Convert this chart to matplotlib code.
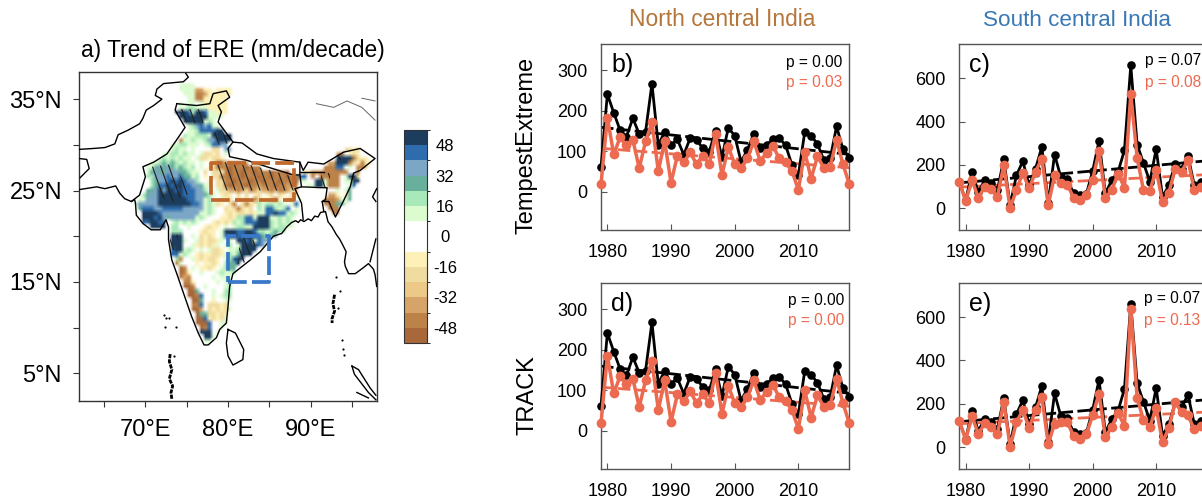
import matplotlib
matplotlib.use('Agg')
import matplotlib.pyplot as plt
from matplotlib.colors import ListedColormap, BoundaryNorm
from matplotlib.patches import Polygon
from matplotlib.cm import ScalarMappable
import numpy as np

plt.rcParams['font.family'] = ['Liberation Sans', 'DejaVu Sans']

W, H = 1202, 503

years = list(range(1979, 2019))

# panel b, d: north central India
north_obs = [60, 241, 195, 152, 136, 181, 143, 148, 267, 115, 148, 115, 129, 91, 132, 128, 107, 99, 151, 85,
             158, 138, 74, 103, 143, 107, 114, 130, 133, 114, 66, 41, 147, 138, 118, 78, 82, 161, 105, 84]
north_te = [18, 183, 92, 134, 114, 128, 58, 124, 171, 51, 124, 22, 89, 72, 97, 68, 89, 68, 143, 41,
            110, 68, 59, 82, 124, 76, 95, 113, 82, 72, 51, 4, 99, 32, 87, 59, 62, 128, 68, 18]
north_track = [18, 185, 92, 134, 114, 128, 58, 124, 171, 51, 124, 22, 89, 72, 97, 68, 89, 68, 143, 41,
               110, 68, 59, 82, 124, 76, 95, 113, 82, 72, 51, 4, 99, 32, 87, 59, 62, 128, 68, 18]
north_obs_trend = [159, 92]
north_te_trend = [107, 59]
north_track_trend = [107, 60]

# panel c, e: south central India
south_obs = [122, 37, 165, 75, 129, 117, 83, 226, 14, 152, 217, 106, 183, 283, 22, 248, 142, 134, 68, 60,
             65, 172, 311, 68, 129, 168, 268, 660, 294, 209, 122, 274, 52, 106, 206, 183, 242, 106, 122, 95]
south_te = [122, 32, 129, 48, 98, 88, 52, 198, 0, 86, 163, 91, 168, 229, 14, 152, 117, 109, 49, 37,
            60, 132, 263, 48, 83, 160, 95, 529, 234, 83, 80, 178, 29, 71, 183, 168, 222, 83, 98, 90]
south_track = [122, 34, 142, 62, 110, 93, 59, 209, 0, 116, 170, 90, 170, 232, 15, 108, 116, 116, 51, 36,
               59, 147, 247, 46, 93, 159, 97, 637, 229, 124, 93, 181, 23, 88, 206, 162, 147, 82, 97, 90]
south_obs_trend = [117, 219]
south_te_trend = [97, 155]
south_track_trend = [108, 162]

# ERE trend map, 0.5 degree cells: (row from 37N, column from 68E, level codes)
map_lat0, map_lon0, map_step = 37.25, 68.0, 0.5
code_values = {'w': 0, 'a': 12, 'b': 20, 'c': 28, 'd': 36, 'e': 44, 'f': 52,
               'n': -12, 'o': -20, 'p': -36, 'q': -44, 'r': -52}
ere_runs = [
    (1, 12, 'aaaa'), (2, 12, 'aaaappnnwnnnn'), (3, 13, 'aaaqqpnnnnnn'), (4, 14, 'aaqqnnnnnn'),
    (5, 12, 'awaawannnnnn'), (6, 12, 'aabbaaannnnn'), (7, 11, 'fffebffeaannn'), (8, 12, 'fffffffaaaa'),
    (9, 13, 'fffffaba'), (10, 14, 'abdedeaa'), (11, 14, 'aabeeeeff'), (12, 13, 'baabbbafffff'),
    (13, 12, 'qaabaabddffff'), (14, 10, 'aabbaaawabeedd'),
    (15, 10, 'abaawawwwwoowdd'), (15, 52, 'oono'),
    (16, 8, 'aabbabaawaoonowaw'), (16, 50, 'pqwnon'),
    (17, 7, 'abababaawaoonoonw'), (17, 50, 'ffffqonnw'),
    (18, 5, 'aabcbcbabaawawwnqqpqqqqp'), (18, 48, 'ppfffqonqnn'),
    (19, 4, 'aacdcdcbcbabwawnoqqqrqqqrqqq'), (19, 47, 'qqqeewawqqo'),
    (20, 4, 'acdccdddccbaawowoonqrqqrqqrqqqrqqqr'), (20, 42, 'ooqqqqqqqqqwwq'),
    (21, 4, 'bbdddeddecc'), (21, 15, 'abwnwooqqrqqrqqqrqqrqqqrqq'), (21, 41, 'eewqwqqqqqwaffo'),
    (22, 5, 'bcddefefedd'), (22, 16, 'bwwnwooqqrqqqrqqrqqqrqqqr'), (22, 41, 'aawwffaqqqwaaff'),
    (23, 5, 'bceefeffeedd'), (23, 17, 'caawooqrqqqrqqpqqqrqqpqq'), (23, 42, 'waaffaqqqwwae'),
    (24, 4, 'ccdfdffefeeedd'), (24, 18, 'bwwaooppqpoqpoppqpqqpop'), (24, 48, 'wwawac'),
    (25, 3, 'bcddffffffeeedd'), (25, 18, 'cbawnonwowownownowonwon'), (25, 48, 'ppnwnc'),
    (26, 2, 'aadddfffffffeedd'), (26, 18, 'abwwanowonowqonwoqnwoowa'), (26, 47, 'qqqpaac'),
    (27, 1, 'adddddffffffffeed'), (27, 18, 'abaonwoqwoqonbabbabawaew'), (27, 47, 'qqqcca'),
    (28, 2, 'ceeeddeeeeeddddd'), (28, 18, 'abawwonoqonowbaeebabewaw'), (28, 48, 'qqq'),
    (29, 3, 'ffffeddddddddd'), (29, 17, 'aabawwnonoononaaeefeeabaw'), (29, 49, 'qq'),
    (30, 3, 'fffefdcdddddd'), (30, 16, 'abawwwnnonbbeeafffaababaww'),
    (31, 3, 'eeffee'), (31, 10, 'abababawwwnononbabeeefffbababaw'),
    (32, 5, 'ffff'), (32, 10, 'bbwwawwwnonnwawabbaaffffbabbaa'),
    (33, 10, 'bbbwwwwnonnwafffeeffebbabcbb'),
    (34, 10, 'fffwwawononwaeffeefffecbcd'),
    (35, 10, 'fffawwaonoonawawffefaedd'),
    (36, 10, 'fffwwanononawabwaffffed'),
    (37, 10, 'effabawawaoonwaabffff'),
    (38, 10, 'eeabawnonnoonabacfff'),
    (39, 11, 'bqwwanonoonwabeff'),
    (40, 11, 'qawwwnwnnonwbccf'),
    (41, 12, 'rqwawnnonwabcc'),
    (42, 12, 'rqnwwawwwabaab'),
    (43, 12, 'qpqwwwwwawaaa'),
    (44, 13, 'qqnwwwwwawab'),
    (45, 13, 'rrqwwawwwwab'),
    (46, 14, 'rrcwwwawwbb'),
    (47, 14, 'rrqewwawabb'),
    (48, 15, 'rrcwwnwwaa'),
    (49, 15, 'qqewooonow'),
    (50, 15, 'rrpwononoa'),
    (51, 16, 'rccoonon'),
    (52, 16, 'rrenonoa'),
    (53, 16, 'rrrewwaa'),
    (54, 17, 'rqewwa'),
    (55, 17, 'fffwa'),
    (56, 18, 'ffa'),
    (57, 18, 'aa'),
]

level_bounds = [-56, -48, -40, -32, -24, -16, -8, 0, 8, 16, 24, 32, 40, 48, 56]
level_colors = ['#a8683a', '#bd8248', '#d6a468', '#ecc987', '#f0dca0', '#fdf1b8', '#ffffff',
                '#ffffff', '#dcfcd0', '#a9e8b8', '#68b09c', '#7ba6c6', '#2f6cad', '#1c3d5e']
bar_ticks = [-48, -32, -16, 0, 16, 32, 48]

# borders and coasts as (lon, lat)
border_lines = [
    # Afghanistan, Iran and Pakistan coast, on round the Bay of Bengal
    [(74.9, 37.8), (75.2, 37.4), (74.6, 36.9), (72.2, 36.7), (71.4, 36.1), (71.2, 35.4), (72.0, 35.0),
     (71.0, 34.3), (70.1, 33.8), (69.7, 32.9), (69.3, 32.3), (67.9, 31.6), (66.7, 31.1), (66.3, 30.1),
     (65.1, 29.7), (63.7, 29.6), (62.0, 29.5)],
    [(62.0, 28.5), (62.9, 28.4), (63.2, 27.4), (62.1, 26.4)],
    [(62.0, 25.1), (64.1, 25.4), (65.1, 25.2), (66.4, 25.5), (66.9, 24.7), (67.5, 24.1), (68.3, 23.8),
     (68.7, 24.0), (68.8, 23.6), (68.9, 22.3), (69.7, 21.4), (70.7, 20.7), (71.8, 20.7), (72.5, 21.8),
     (72.8, 21.0), (72.8, 19.6), (73.2, 17.4), (73.8, 15.9), (74.6, 13.8), (75.6, 11.2), (76.4, 9.4),
     (77.1, 8.1), (77.6, 8.1), (78.6, 8.9), (79.0, 9.8), (79.8, 10.5), (80.0, 12.3), (80.2, 14.5),
     (80.6, 15.9), (82.7, 17.4), (83.9, 18.3), (85.5, 20.0), (86.5, 20.3), (87.1, 21.0), (87.7, 21.5),
     (88.2, 21.7), (88.5, 21.5), (88.8, 21.8), (89.2, 21.6), (89.7, 21.9), (90.1, 21.7), (90.5, 22.2),
     (90.9, 22.1), (91.2, 22.6), (91.8, 22.7), (92.1, 21.6), (92.6, 21.0), (93.1, 20.2), (93.5, 19.7),
     (93.8, 19.2), (94.3, 18.3), (94.1, 17.2), (94.2, 16.7), (94.6, 15.9), (95.4, 15.9), (96.3, 16.5),
     (97.0, 17.0), (97.6, 16.4), (97.8, 15.8), (98.0, 14.5)],
    # Pakistan - India
    [(73.8, 34.5), (73.6, 33.8), (74.8, 31.9), (73.6, 30.3), (72.6, 29.0), (71.0, 28.1), (69.7, 27.6),
     (70.0, 26.5), (69.3, 24.5), (68.3, 23.8)],
    # Kashmir, Nepal top, Bhutan, north east India
    [(73.8, 34.5), (76.2, 34.3), (77.8, 34.5), (78.2, 35.6), (79.8, 35.9), (80.2, 35.2), (78.8, 34.3),
     (79.2, 33.6), (78.8, 32.5), (80.6, 30.3), (81.7, 30.2), (83.5, 29.0), (85.5, 28.5), (88.7, 28.1),
     (89.1, 27.2), (89.7, 28.1), (91.6, 27.9), (94.0, 29.2), (96.0, 29.6), (97.8, 28.5), (96.0, 27.2),
     (95.2, 26.9), (94.8, 25.4), (94.0, 23.9), (93.0, 22.1), (92.2, 23.8), (91.4, 23.8), (91.6, 22.7)],
    # Nepal south
    [(80.6, 30.3), (80.0, 29.6), (80.2, 28.7), (82.3, 28.3), (84.7, 27.6), (87.9, 26.7), (88.7, 26.7),
     (88.7, 28.1)],
    # Bhutan south, Bangladesh
    [(88.7, 27.0), (91.6, 27.0)],
    [(88.7, 26.7), (88.9, 25.4), (88.1, 25.2), (88.9, 23.6), (89.1, 21.8)],
    [(88.9, 25.4), (92.0, 25.3), (91.8, 24.0), (91.4, 23.8)],
    # Sri Lanka
    [(80.0, 9.8), (80.9, 9.4), (81.9, 7.6), (81.8, 6.5), (80.6, 5.9), (80.0, 6.9), (79.8, 8.3), (80.0, 9.8)],
    # Sumatra, Malaya
    [(95.0, 5.8), (95.3, 4.9), (97.0, 2.9), (97.9, 2.1)],
    [(95.0, 5.8), (95.8, 5.4), (97.2, 3.4), (97.9, 2.6)],
    [(95.6, 2.9), (97.0, 2.3)],
    # Myanmar - Thailand side
    [(98.0, 25.2), (97.5, 24.3), (97.9, 23.8)],
    [(97.9, 19.7), (97.2, 17.2)],
]
china_lines = [
    [(90.7, 34.5), (92.8, 34.1), (94.4, 34.8), (96.2, 34.1), (97.8, 32.7)],
    [(96.2, 35.1), (97.8, 34.8)],
]
island_chains = [
    [(92.9, 13.6), (92.7, 12.6), (92.9, 11.8), (92.6, 11.0), (92.6, 10.5)],
    [(73.0, 7.1), (72.9, 6.3), (73.2, 5.4), (72.9, 4.4), (73.3, 3.6), (73.1, 2.9), (73.2, 2.2)],
]
island_lon = [72.2, 72.5, 72.8, 72.4, 73.7, 73.5, 93.1, 93.5, 93.8, 93.9, 94.0, 93.3]
island_lat = [11.4, 11.0, 11.1, 10.1, 10.1, 6.9, 15.5, 14.0, 8.6, 7.7, 7.0, 12.1]

# significant trend areas
signif_areas = [
    [(74.2, 33.9), (77.4, 33.9), (77.0, 32.3), (75.0, 32.4)],
    [(78.2, 31.4), (79.4, 31.4), (80.2, 30.2), (78.9, 30.0)],
    [(70.75, 27.6), (73.4, 27.9), (75.4, 24.7), (73.0, 23.6), (71.35, 24.7)],
    [(78.6, 28.1), (81.5, 28.1), (87.9, 26.5), (88.3, 25.0), (79.0, 25.0)],
    [(91.2, 26.9), (92.4, 26.9), (92.4, 25.4), (91.2, 25.4)],
    [(92.6, 28.9), (94.0, 28.9), (94.0, 28.3), (92.6, 28.3)],
    [(73.0, 20.1), (74.0, 20.1), (74.0, 18.5), (73.0, 18.5)],
    [(81.9, 20.0), (83.5, 19.4), (81.9, 17.0), (80.8, 17.4)],
]
north_box = [(78, 24), (88, 24), (88, 28), (78, 28), (78, 24)]
south_box = [(80, 15), (85, 15), (85, 20), (80, 20), (80, 15)]

BROWN = '#c0692f'
BLUE = '#3a78c9'
RED = '#ec6a50'
AXC = '#555555'


def px_axes(fig, left, top, right, bottom):
    return fig.add_axes([left / W, 1 - bottom / H, (right - left) / W, (bottom - top) / H])


def px_text(fig, x, y, s, **kw):
    fig.text(x / W, 1 - y / H, s, **kw)


def ere_grid():
    grid = np.full((60, 60), np.nan)
    for row, col, codes in ere_runs:
        for k, c in enumerate(codes):
            grid[row, col + k] = code_values[c]
    return grid


def draw_map(fig):
    ax = px_axes(fig, 79.3, 71.7, 376.7, 400.7)
    grid = ere_grid()
    cmap = ListedColormap(level_colors)
    norm = BoundaryNorm(level_bounds, cmap.N)
    rgba = cmap(norm(np.ma.masked_invalid(grid)))
    rgba[np.isnan(grid)] = (1, 1, 1, 0)
    extent = [map_lon0, map_lon0 + 60 * map_step, map_lat0 - 60 * map_step, map_lat0]
    ax.imshow(rgba, extent=extent, aspect='auto', interpolation='bilinear',
              interpolation_stage='rgba', zorder=1)

    for area in signif_areas:
        patch = Polygon(area, closed=True, fill=False, lw=0, transform=ax.transData)
        ax.add_patch(patch)
        for x0 in np.arange(45, 100, 1.0):
            line, = ax.plot([x0, x0 + 40 / 2.55], [40, 0], color='#222222', lw=0.85, zorder=3)
            line.set_clip_path(patch)

    for pts in border_lines:
        ax.plot([p[0] for p in pts], [p[1] for p in pts], color='black', lw=1.0, zorder=4)
    for pts in china_lines:
        ax.plot([p[0] for p in pts], [p[1] for p in pts], color='#666666', lw=0.7, zorder=4)
    for pts in island_chains:
        ax.plot([p[0] for p in pts], [p[1] for p in pts], color='black', lw=2, ls=(0, (1.5, 0.4)), zorder=4)
    ax.scatter(island_lon, island_lat, s=2.5, color='black', lw=0, zorder=4)

    for box, color in ((north_box, BROWN), (south_box, BLUE)):
        ax.plot([p[0] for p in box], [p[1] for p in box], color=color, lw=2.7,
                ls=(0, (5, 1.4)), zorder=5)

    ax.set_xlim(62, 98)
    ax.set_ylim(2, 38)
    ax.set_xticks([65, 70, 75, 80, 85, 90, 95])
    ax.set_xticklabels(['', '70°E', '', '80°E', '', '90°E', ''], fontsize=17)
    ax.set_yticks([5, 10, 15, 20, 25, 30, 35])
    ax.set_yticklabels(['5°N', '', '15°N', '', '25°N', '', '35°N'], fontsize=17)
    ax.tick_params(length=4.5, width=0.8, color='#333333')
    ax.tick_params(axis='x', pad=9)
    ax.tick_params(axis='y', pad=8)
    for s in ax.spines.values():
        s.set_color('#333333')
        s.set_linewidth(1)

    cax = px_axes(fig, 403.5, 130, 426.7, 343)
    bar = fig.colorbar(ScalarMappable(norm=norm, cmap=cmap), cax=cax, ticks=bar_ticks, drawedges=False)
    bar.ax.set_yticklabels([str(t) for t in bar_ticks], fontsize=12)
    bar.ax.tick_params(length=0, pad=4)
    bar.outline.set_edgecolor('#333333')
    bar.outline.set_linewidth(0.8)
    for lab in bar.ax.get_yticklabels():
        lab.set_horizontalalignment('center')
        lab.set_x(1.55)


def draw_series(fig, rect, ylim, yticks, obs, model, obs_trend, model_trend, label, p_obs, p_model, px_ps):
    ax = px_axes(fig, *rect)
    ends = [years[0], years[-1]]
    ax.plot(ends, obs_trend, color='black', lw=2, ls=(0, (4.5, 1.6)), zorder=2)
    ax.plot(ends, model_trend, color=RED, lw=2, ls=(0, (4.5, 1.6)), zorder=2.5)
    ax.plot(years, obs, '-o', color='black', lw=2, ms=6.2, mew=0, clip_on=False, zorder=3)
    ax.plot(years, model, '-o', color=RED, lw=2.5, ms=7, mew=0, clip_on=False, zorder=4)
    ax.set_xlim(1979, 2018)
    ax.set_ylim(*ylim)
    ax.set_xticks([1980, 1990, 2000, 2010])
    ax.set_yticks(yticks)
    ax.tick_params(direction='in', length=4.5, width=0.8, color=AXC, labelsize=13)
    ax.tick_params(axis='x', pad=10)
    ax.tick_params(axis='y', pad=10)
    ax.spines['top'].set_color(AXC)
    ax.spines['right'].set_color(AXC)
    ax.spines['left'].set_color(AXC)
    ax.spines['bottom'].set_color(AXC)
    for s in ax.spines.values():
        s.set_linewidth(1)
    px_text(fig, rect[0] + 10, rect[1] + 21, label, fontsize=18, va='center', ha='left')
    x, y, ha = px_ps
    px_text(fig, x, y, p_obs, fontsize=11.2, color='black', ha=ha, va='center')
    px_text(fig, x, y + 21, p_model, fontsize=11.2, color=RED, ha=ha, va='center')


fig = plt.figure(figsize=(W / 100, H / 100), dpi=100)

px_text(fig, 233, 50, 'a) Trend of ERE (mm/decade)', fontsize=16.4, ha='center', va='center')
px_text(fig, 722, 20, 'North central India', fontsize=16.4, color='#b5763a', ha='center', va='center')
px_text(fig, 1077, 20, 'South central India', fontsize=16.2, color='#3a78b5', ha='center', va='center')
px_text(fig, 527, 145, 'TempestExtreme', fontsize=17, rotation=90, ha='center', va='center')
px_text(fig, 527, 395, 'TRACK', fontsize=17, rotation=90, ha='center', va='center')

draw_map(fig)

north_lim = (-95, 365)
south_lim = (-101, 759)
draw_series(fig, (601, 44, 849.3, 230), north_lim, [0, 100, 200, 300], north_obs, north_te,
            north_obs_trend, north_te_trend, 'b)', 'p = 0.00', 'p = 0.03', (842, 62, 'right'))
draw_series(fig, (959.3, 44, 1207, 230), south_lim, [0, 200, 400, 600], south_obs, south_te,
            south_obs_trend, south_te_trend, 'c)', 'p = 0.07', 'p = 0.08', (1145, 61, 'left'))
draw_series(fig, (601, 282.7, 849.3, 469), north_lim, [0, 100, 200, 300], north_obs, north_track,
            north_obs_trend, north_track_trend, 'd)', 'p = 0.00', 'p = 0.00', (844, 300, 'right'))
draw_series(fig, (959.3, 282.7, 1207, 469), south_lim, [0, 200, 400, 600], south_obs, south_track,
            south_obs_trend, south_track_trend, 'e)', 'p = 0.07', 'p = 0.13', (1144, 299, 'left'))

plt.savefig('out.png', dpi=100)
